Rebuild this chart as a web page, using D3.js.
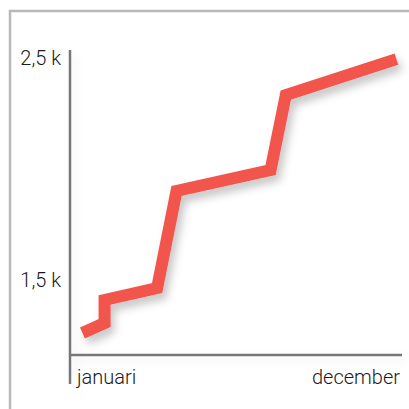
<!DOCTYPE html>
<html><head><meta charset="utf-8">
<script src="https://cdn.jsdelivr.net/npm/d3@7"></script>
<style>html,body{margin:0;padding:0;background:#fff;}svg{display:block;}</style>
</head><body>
<svg id="c" width="409" height="409"></svg>
<script>
const months = [0.45, 1.25, 1.25, 3.15, 3.85, 7.25, 7.8, 11.8];
const values = [1261, 1306, 1410, 1464, 1901, 1995, 2333, 2495];
const yTicks = [1500, 2500];
const yTickLabels = ["1,5 k", "2,5 k"];
const xLabels = ["januari", "december"];

const svg = d3.select("#c");
const defs = svg.append("defs");
const f = defs.append("filter").attr("id","sh").attr("x","-20%").attr("y","-20%").attr("width","150%").attr("height","150%");
f.append("feDropShadow").attr("dx",4).attr("dy",6).attr("stdDeviation",4).attr("flood-color","#000").attr("flood-opacity",0.22);
const f2 = defs.append("filter").attr("id","sh2").attr("filterUnits","userSpaceOnUse")
  .attr("x",0).attr("y",0).attr("width",409).attr("height",409);
f2.append("feDropShadow").attr("dx",4).attr("dy",4).attr("stdDeviation",5).attr("flood-color","#000").attr("flood-opacity",0.08);

// frame
svg.append("path").attr("d","M10,409 V11 H409").attr("fill","none").attr("stroke","#b8b8b8").attr("stroke-width",2.5);

const x = d3.scaleLinear().domain([0, 12]).range([70, 402]);
const y = d3.scaleLinear().domain([1500, 2500]).range([280, 58]);

const font = "Roboto, 'Noto Sans', sans-serif";

// axes
const ax = svg.append("g").attr("filter","url(#sh2)");
ax.append("line").attr("x1",70).attr("x2",70).attr("y1",50).attr("y2",384).attr("stroke","#777").attr("stroke-width",2.5);
ax.append("line").attr("x1",69).attr("x2",402).attr("y1",355).attr("y2",355).attr("stroke","#777").attr("stroke-width",2.5);

// y tick labels
svg.selectAll("text.yt").data(yTicks).join("text").attr("class","yt")
  .attr("x",61).attr("y",d=>y(d)).attr("dy","0.36em").attr("text-anchor","end")
  .attr("font-family",font).attr("font-weight",300).attr("font-size",20).attr("fill","#1a1a1a")
  .text((d,i)=>yTickLabels[i]);

// x labels
svg.append("text").attr("x",77).attr("y",384).attr("text-anchor","start")
  .attr("font-family",font).attr("font-weight",300).attr("font-size",20).attr("fill","#1a1a1a").text(xLabels[0]);
svg.append("text").attr("x",400).attr("y",384).attr("text-anchor","end")
  .attr("font-family",font).attr("font-weight",300).attr("font-size",20).attr("fill","#1a1a1a").text(xLabels[1]);

// line
const data = months.map((m,i)=>({m, v: values[i]}));
const line = d3.line().x(d=>x(d.m)).y(d=>y(d.v));
svg.append("path").datum(data).attr("d",line).attr("fill","none")
  .attr("stroke","#f2554c").attr("stroke-width",12).attr("stroke-linejoin","miter").attr("stroke-linecap","butt")
  .attr("filter","url(#sh)");
</script>
</body></html>
